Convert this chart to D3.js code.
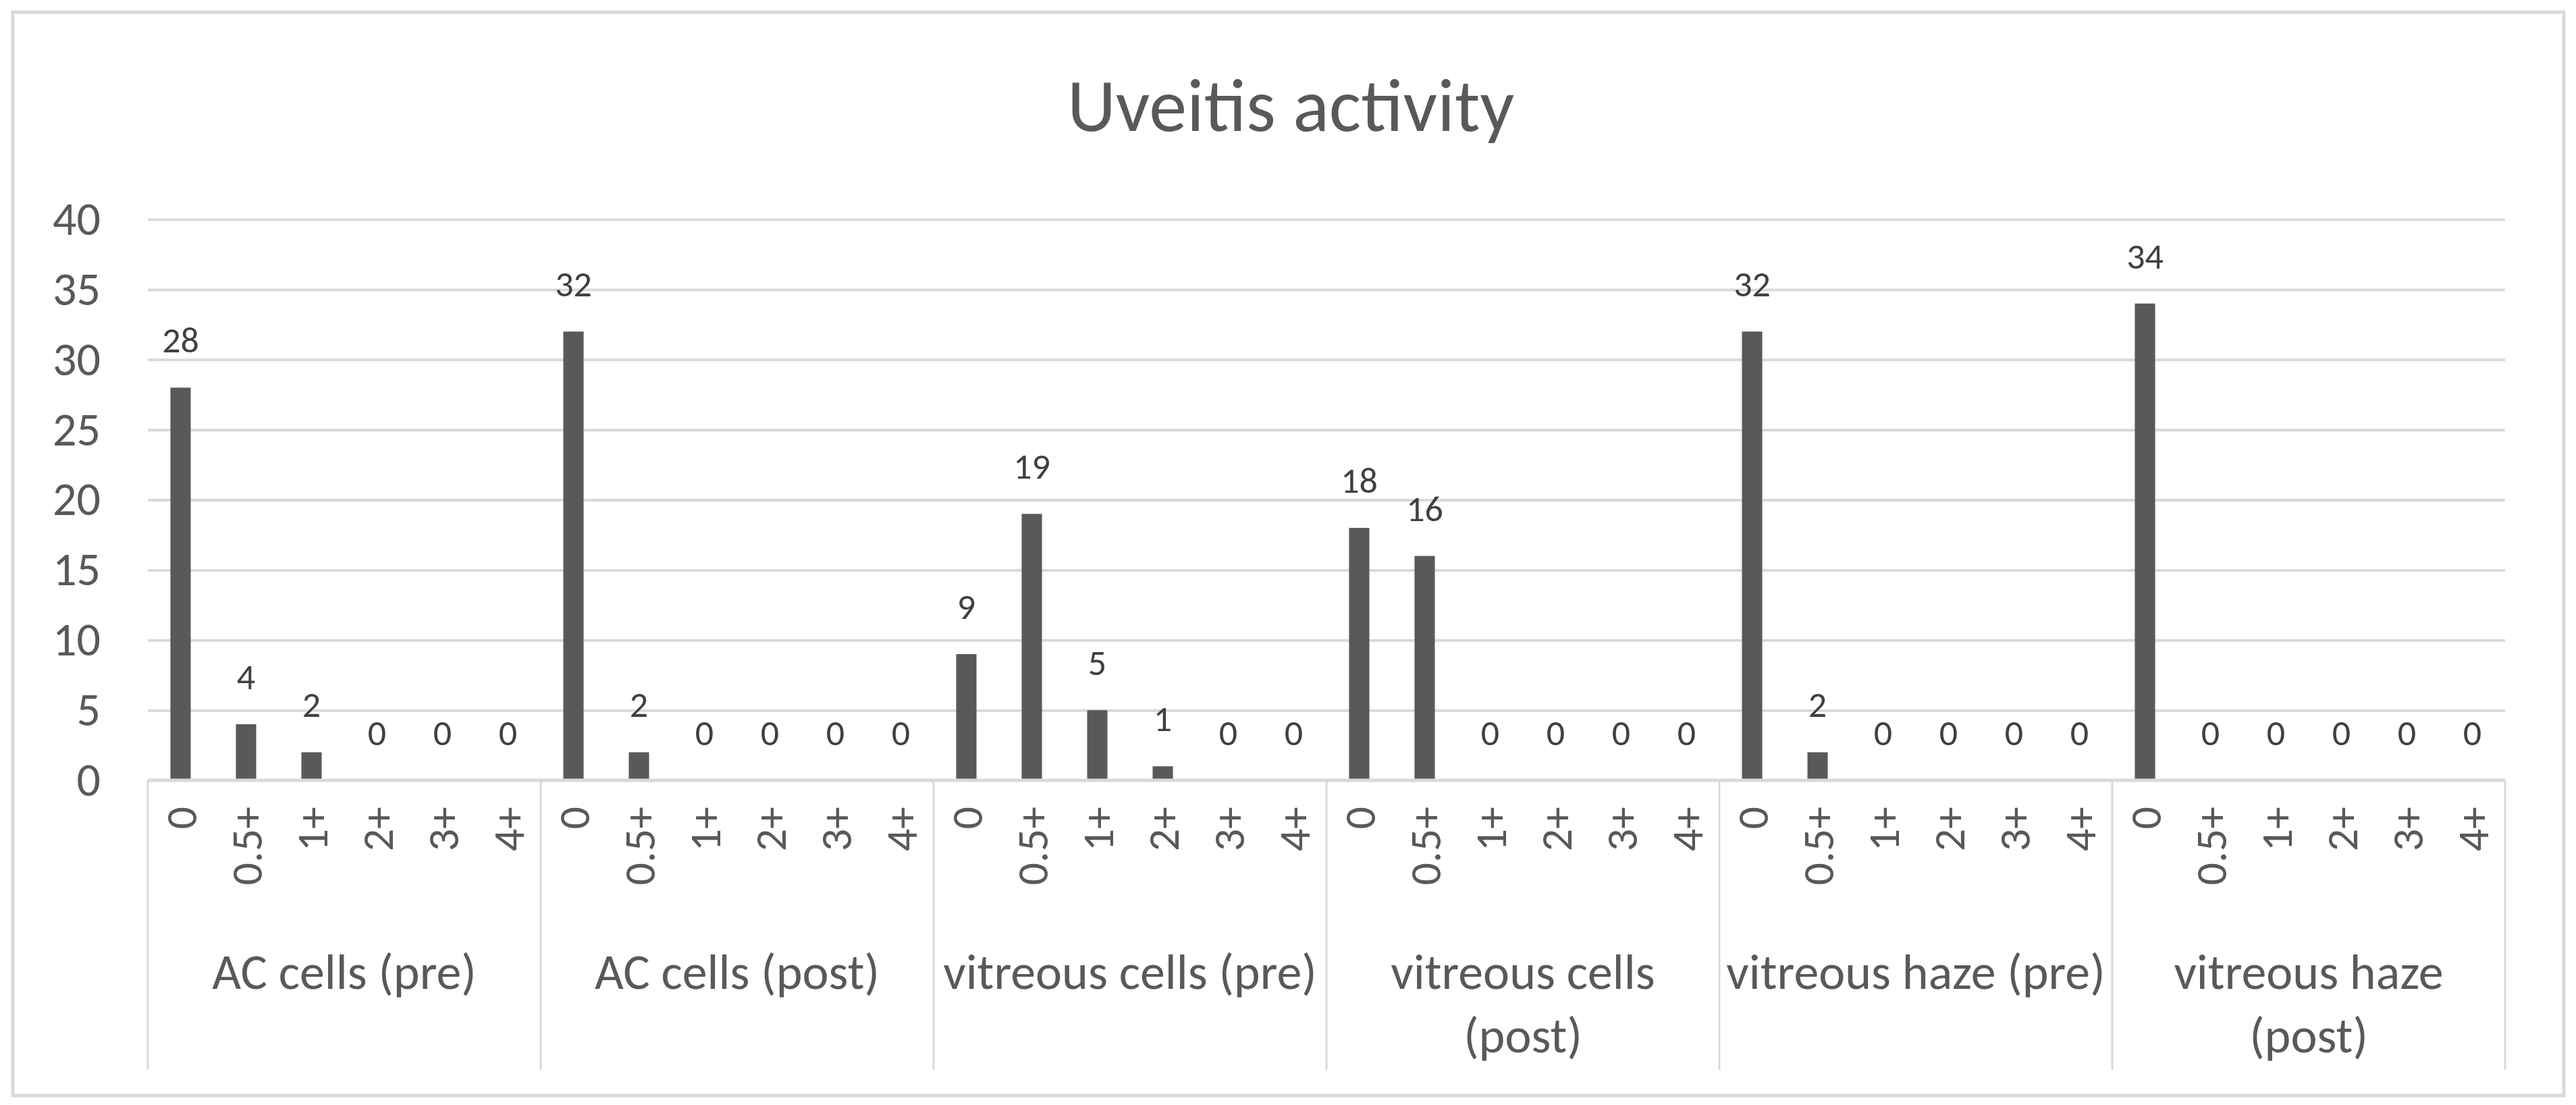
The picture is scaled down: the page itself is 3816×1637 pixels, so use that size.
<!DOCTYPE html>
<html>
<head>
<meta charset="utf-8">
<script src="https://cdn.jsdelivr.net/npm/d3@7"></script>
<style>
  html, body { margin: 0; padding: 0; background: #fff; }
  svg text { font-family: Carlito, Calibri, Lato, sans-serif; }
</style>
</head>
<body>
<div id="chart"></div>
<script>
// Data
const groups = ["AC cells (pre)", "AC cells (post)", "vitreous cells (pre)", "vitreous cells\n(post)", "vitreous haze (pre)", "vitreous haze\n(post)"];
const grades = ["0", "0.5+", "1+", "2+", "3+", "4+"];
const acPre = [28, 4, 2, 0, 0, 0];
const acPost = [32, 2, 0, 0, 0, 0];
const vitCellsPre = [9, 19, 5, 1, 0, 0];
const vitCellsPost = [18, 16, 0, 0, 0, 0];
const vitHazePre = [32, 2, 0, 0, 0, 0];
const vitHazePost = [34, 0, 0, 0, 0, 0];
const yTicks = [0, 5, 10, 15, 20, 25, 30, 35, 40];
const title = "Uveitis activity";

const seriesByGroup = [acPre, acPost, vitCellsPre, vitCellsPost, vitHazePre, vitHazePost];
const rows = [];
groups.forEach((g, gi) => {
    grades.forEach((gr, i) => rows.push({ group: g, grade: gr, value: seriesByGroup[gi][i] }));
});

const W = 3816, H = 1637;
const plot = { left: 219, right: 3711, top: 325, bottom: 1156 };
const textColor = "#595959";
const gridColor = "#d9d9d9";

const svg = d3.select("#chart").append("svg")
    .attr("width", W).attr("height", H)
    .attr("viewBox", `0 0 ${W} ${H}`);

svg.append("rect").attr("width", W).attr("height", H).attr("fill", "#fff");

// Outer chart border
svg.append("rect")
    .attr("x", 19).attr("y", 18).attr("width", 3779).attr("height", 1605)
    .attr("fill", "none").attr("stroke", gridColor).attr("stroke-width", 5);

// Title
svg.append("text")
    .attr("x", 1912).attr("y", 194)
    .attr("text-anchor", "middle")
    .style("font-size", "112px").style("fill", textColor)
    .text(title);

const y = d3.scaleLinear().domain([0, 40]).range([plot.bottom, plot.top]);
const x0 = d3.scaleBand().domain(groups).range([plot.left, plot.right]).padding(0);
const x1 = d3.scaleBand().domain(grades).range([0, x0.bandwidth()]).padding(0);
const barW = x1.bandwidth() * 0.31;

// Y axis with gridlines
const yAxis = svg.append("g")
    .attr("transform", `translate(${plot.left},0)`)
    .call(d3.axisLeft(y).tickValues(yTicks).tickSize(-(plot.right - plot.left)).tickPadding(70))
    .call(g => g.select(".domain").remove());
yAxis.selectAll(".tick line")
    .attr("stroke", gridColor).attr("stroke-width", 4)
    .filter(d => d === 0).remove();
yAxis.selectAll(".tick text")
    .attr("x", -70)
    .style("font-size", "70px").style("fill", textColor)
    .style("font-family", "Carlito, Calibri, Lato, sans-serif");

// Bars
svg.append("g").selectAll("rect").data(rows).enter().append("rect")
    .attr("x", d => x0(d.group) + x1(d.grade) + (x1.bandwidth() - barW) / 2)
    .attr("y", d => y(d.value))
    .attr("width", barW)
    .attr("height", d => y(0) - y(d.value))
    .attr("fill", "#595959");

// Data labels
svg.append("g").selectAll("text").data(rows).enter().append("text")
    .attr("x", d => x0(d.group) + x1(d.grade) + x1.bandwidth() / 2)
    .attr("y", d => y(d.value) - 52)
    .attr("text-anchor", "middle")
    .style("font-size", "54px").style("fill", "#404040")
    .text(d => d.value);

// X axis line
svg.append("line")
    .attr("x1", plot.left).attr("x2", plot.right)
    .attr("y1", y(0)).attr("y2", y(0))
    .attr("stroke", gridColor).attr("stroke-width", 5);

// Group separators
const sepX = groups.map(g => x0(g)).concat([plot.right]);
svg.append("g").selectAll("line").data(sepX).enter().append("line")
    .attr("x1", d => d).attr("x2", d => d)
    .attr("y1", y(0)).attr("y2", 1585)
    .attr("stroke", gridColor).attr("stroke-width", 3);

// Grade labels (rotated)
svg.append("g").selectAll("text").data(rows).enter().append("text")
    .attr("transform", d => `translate(${x0(d.group) + x1(d.grade) + x1.bandwidth() / 2},1195) rotate(-90)`)
    .attr("text-anchor", "end")
    .attr("dy", "0.36em")
    .style("font-size", "66px").style("fill", textColor)
    .text(d => d.grade);

// Group labels
const gl = svg.append("g").selectAll("text").data(groups).enter().append("text")
    .attr("x", d => x0(d) + x0.bandwidth() / 2)
    .attr("y", 1465)
    .attr("text-anchor", "middle")
    .style("font-size", "74px").style("fill", textColor);
gl.selectAll("tspan").data(d => d.split("\n")).enter().append("tspan")
    .attr("x", function() { return d3.select(this.parentNode).attr("x"); })
    .attr("dy", (d, i) => i === 0 ? 0 : 94)
    .text(d => d);
</script>
</body>
</html>
